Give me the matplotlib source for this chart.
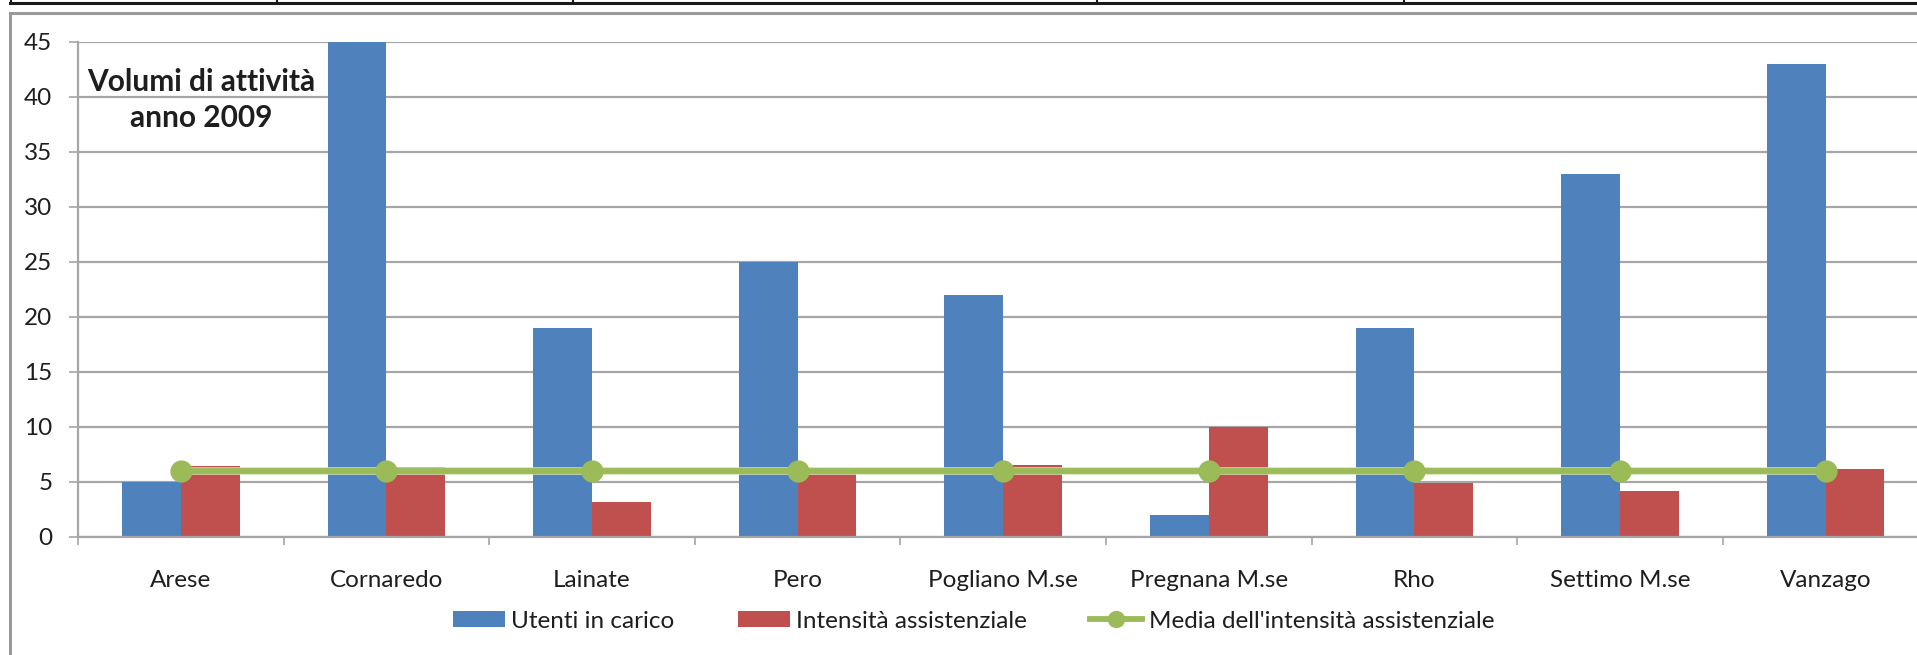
import matplotlib
matplotlib.use("Agg")
import matplotlib.pyplot as plt
import matplotlib.patheffects as pe
from matplotlib.lines import Line2D
from matplotlib.patches import Patch
import numpy as np

plt.rcParams['font.family'] = ['Lato', 'DejaVu Sans']

comuni = ["Arese", "Cornaredo", "Lainate", "Pero", "Pogliano M.se",
          "Pregnana M.se", "Rho", "Settimo M.se", "Vanzago"]
utenti = [5, 45, 19, 25, 22, 2, 19, 33, 43]
intensita = [6.42, 6.36, 3.18, 5.76, 6.52, 10.0, 4.91, 4.15, 6.15]
media = [5.95, 5.95, 5.95, 5.95, 5.95, 5.95, 5.95, 5.95, 5.95]
y_ticks = [0, 5, 10, 15, 20, 25, 30, 35, 40, 45]

BLUE = "#4F81BD"
RED = "#C0504D"
GREEN = "#9BBB59"
GRID = "#A6A6A6"
TEXT = "#1E1E1E"
FS = 17.5

W, H = 1917, 655
fig = plt.figure(figsize=(W / 100, H / 100), dpi=100)

# plot area: 9 categories of ~205.6 px each, it runs past the right edge
left_px, top_px, bottom_px = 78, 41.7, 536.7
cat_px = 205.6
ax = fig.add_axes([left_px / W, (H - bottom_px) / H,
                   9 * cat_px / W, (bottom_px - top_px) / H])

x = np.arange(len(comuni))
bw = 0.286
ax.bar(x - bw / 2, utenti, width=bw, color=BLUE, zorder=2,
       label="Utenti in carico")
ax.bar(x + bw / 2, intensita, width=bw, color=RED, zorder=2,
       label="Intensità assistenziale")
# average line with a soft light rim, markers drawn on top without it
ax.plot(x, media, color=GREEN, lw=4.2, zorder=3, solid_capstyle="butt",
        path_effects=[pe.Stroke(linewidth=5.4, foreground="#D3E3B0"), pe.Normal()])
ax.plot(x, media, ls="none", marker="o", markersize=16, color=GREEN,
        markeredgewidth=0, zorder=4)

ax.set_xlim(-0.5, len(comuni) - 0.5)
ax.set_ylim(0, 45)
ax.set_yticks(y_ticks)
ax.yaxis.grid(True, color=GRID, lw=1.6, zorder=0)
ax.set_axisbelow(True)

for s in ["top", "right"]:
    ax.spines[s].set_visible(False)
for s in ["left", "bottom"]:
    ax.spines[s].set_color(GRID)
    ax.spines[s].set_linewidth(1.6)

ax.tick_params(axis="y", length=6.5, width=1.2, color=GRID, pad=12,
               labelsize=FS, labelcolor=TEXT)
ax.set_xticks(x)
ax.set_xticklabels(comuni)
ax.set_xticks(np.arange(-0.5, len(comuni), 1.0), minor=True)
ax.tick_params(axis="x", which="major", length=0, pad=24,
               labelsize=FS, labelcolor=TEXT)
ax.tick_params(axis="x", which="minor", length=6, width=1.2, color=GRID)

# chart title inside the plot area
fig.text(201 / W, 1 - 81.7 / H, "Volumi di attività", ha="center", va="center",
         fontsize=21.5, fontweight="bold", color=TEXT)
fig.text(201 / W, 1 - 118 / H, "anno 2009", ha="center", va="center",
         fontsize=21.5, fontweight="bold", color=TEXT)

handles = [Patch(facecolor=BLUE), Patch(facecolor=RED),
           Line2D([0], [0], color=GREEN, lw=4.2, marker="o", markersize=12.5,
                  markeredgewidth=0)]
labels = ["Utenti in carico", "Intensità assistenziale",
          "Media dell'intensità assistenziale"]
leg = fig.legend(handles, labels, loc="center", ncol=3,
                 bbox_to_anchor=(973.5 / W, 1 - 621 / H), frameon=False,
                 fontsize=FS, handlelength=2.15, handleheight=0.62,
                 handletextpad=0.25, columnspacing=2.6, borderpad=0)
for t in leg.get_texts():
    t.set_color(TEXT)

# frame of the chart object and the table rule above it
fig.add_artist(Line2D([10 / W, 10 / W], [0, 1 - 12.7 / H], color="#9A9A9A",
                      lw=2.2, transform=fig.transFigure))
fig.add_artist(Line2D([10 / W, 1], [1 - 12.7 / H, 1 - 12.7 / H], color="#9A9A9A",
                      lw=2.2, transform=fig.transFigure))
fig.add_artist(Line2D([10 / W, 1], [1 - 2.5 / H, 1 - 2.5 / H], color="#1A1A1A",
                      lw=2.2, transform=fig.transFigure))
for xp in [11, 277, 573, 1097, 1404]:
    fig.add_artist(Line2D([xp / W, xp / W], [1 - 3 / H, 1], color="#1A1A1A",
                          lw=1.5, transform=fig.transFigure))

fig.savefig("out.png", dpi=100, facecolor="white")
